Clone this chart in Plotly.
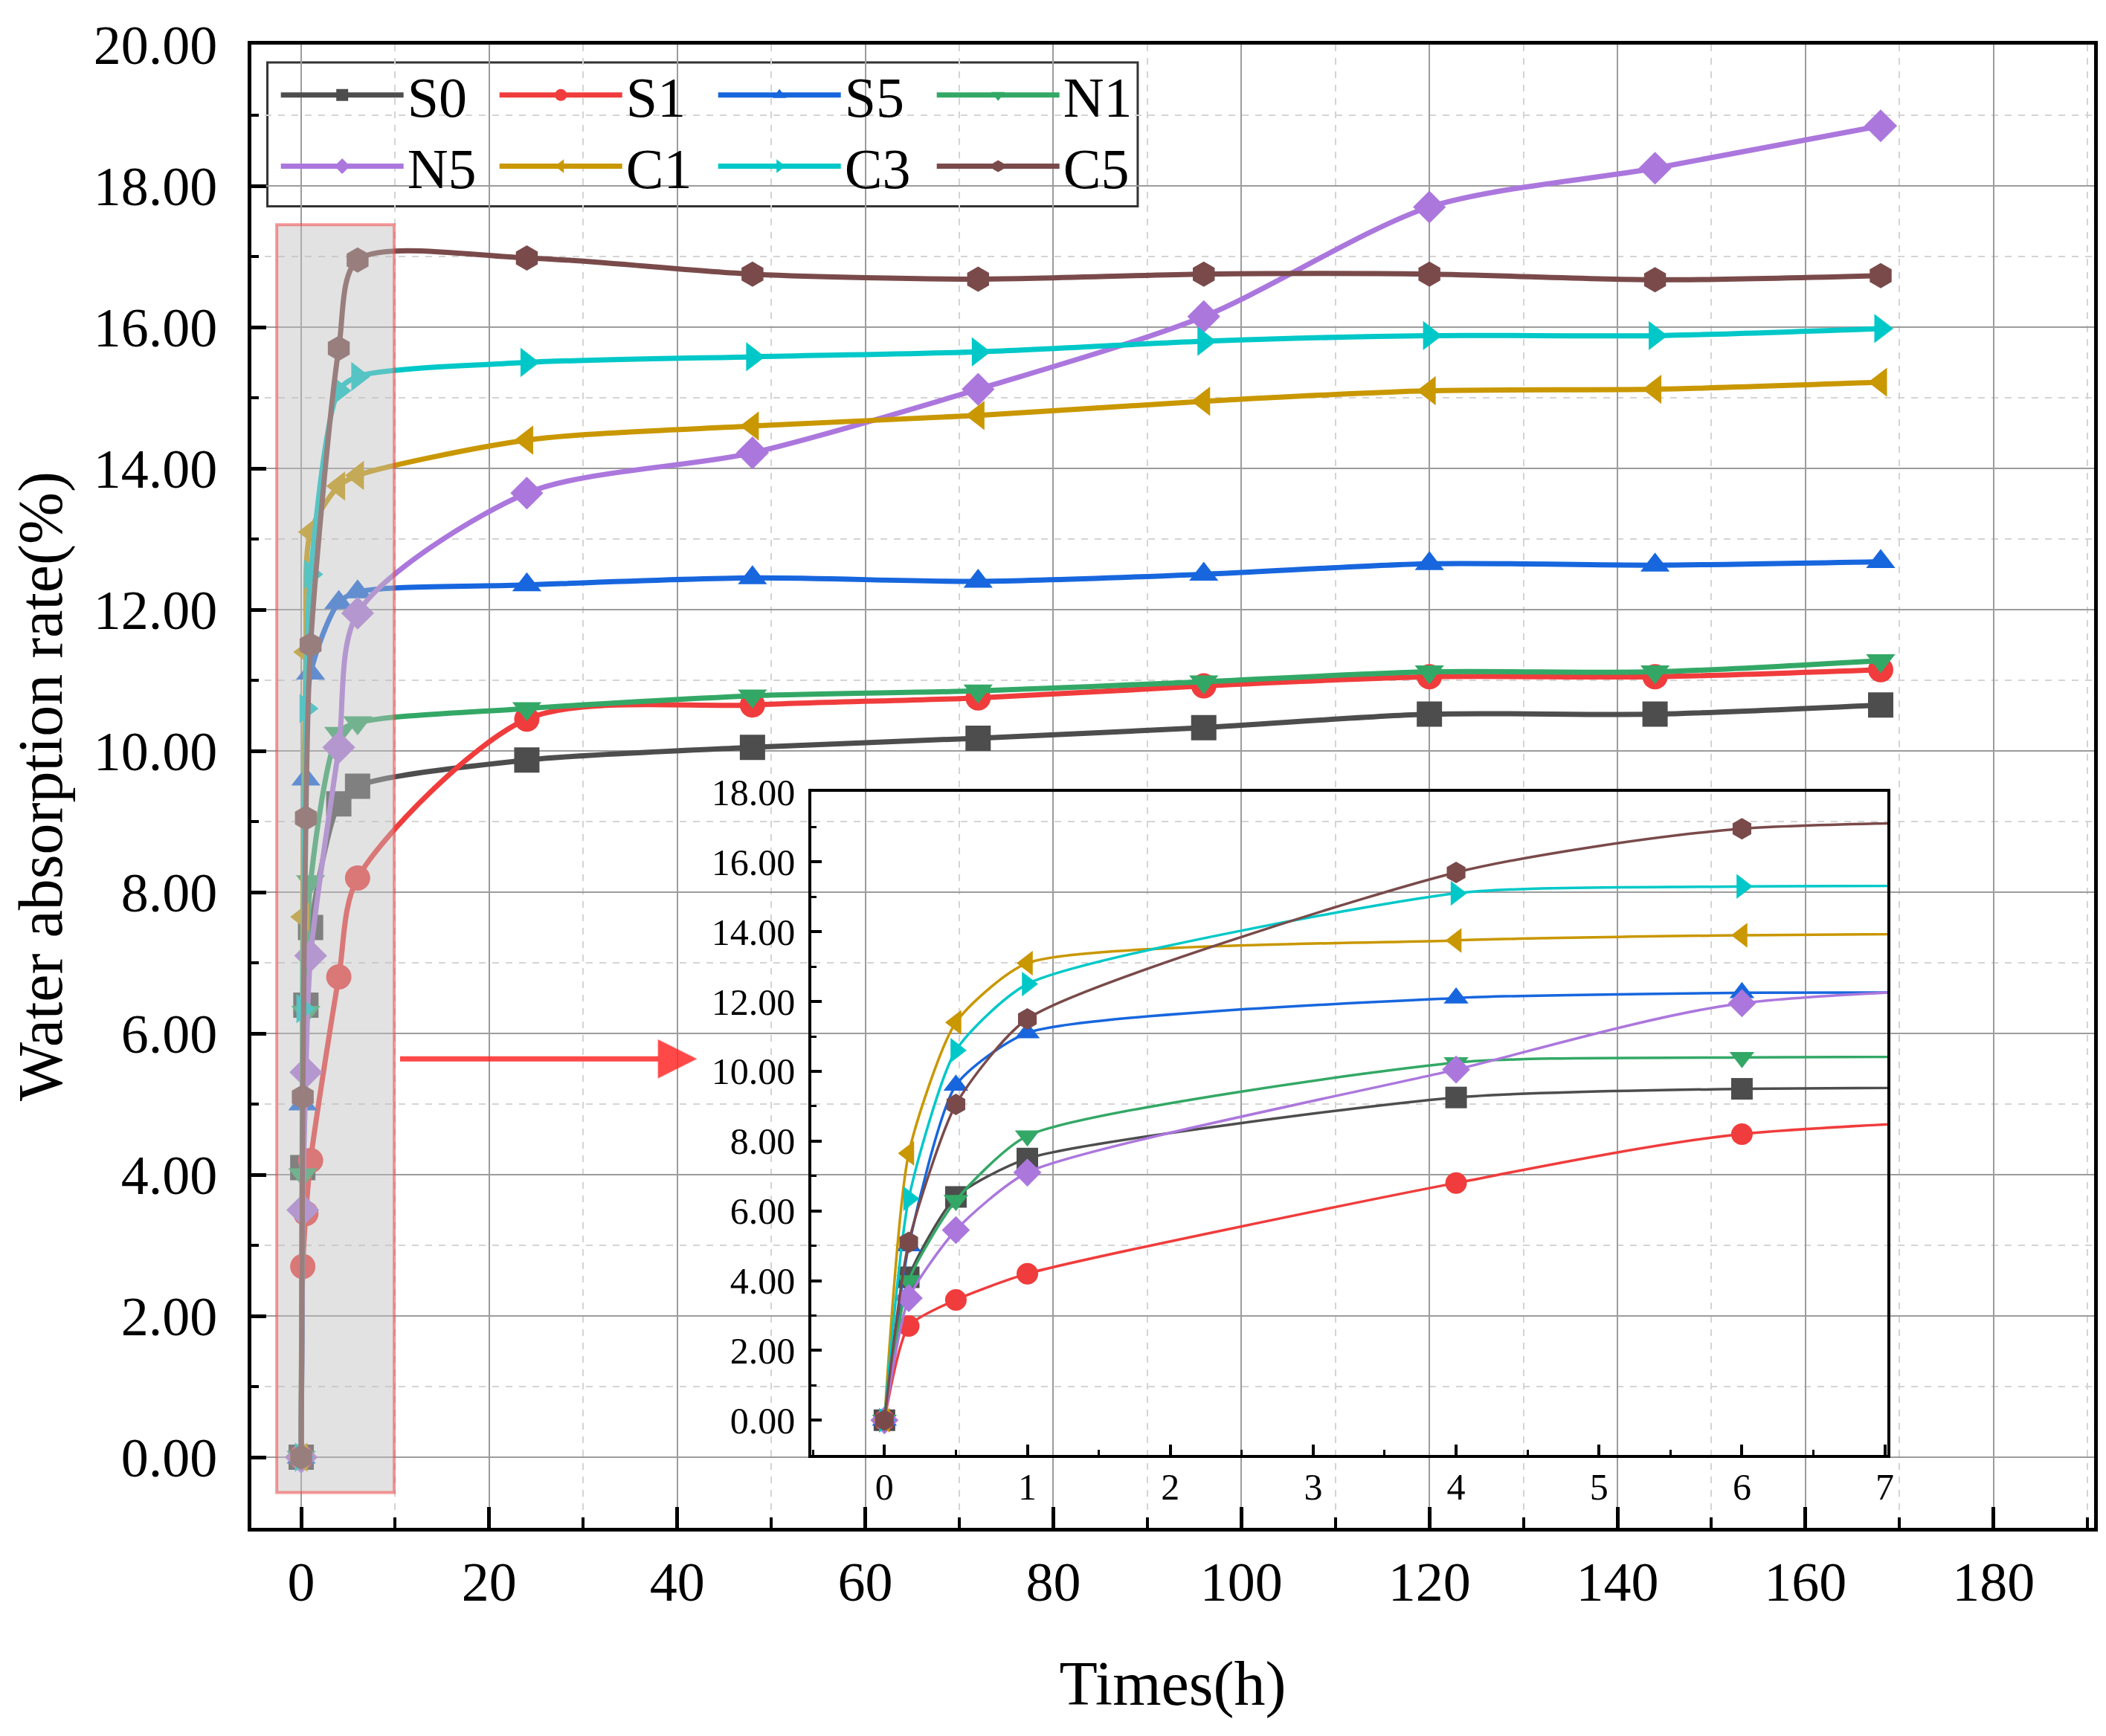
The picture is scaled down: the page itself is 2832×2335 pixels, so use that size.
import plotly.graph_objects as go

# soaking times (h) and water absorption (%) for each mix
hours = [0, 0.17, 0.5, 1, 4, 6, 24, 48, 72, 96, 120, 144, 168]

s0 = [0, 4.1, 6.4, 7.5, 9.25, 9.5, 9.87, 10.05, 10.18, 10.33, 10.52, 10.52, 10.65]
s1 = [0, 2.7, 3.45, 4.2, 6.8, 8.2, 10.45, 10.65, 10.75, 10.92, 11.05, 11.05, 11.15]
s5 = [0, 5.0, 9.6, 11.1, 12.1, 12.25, 12.35, 12.45, 12.4, 12.5, 12.65, 12.63, 12.68]
n1 = [0, 4.0, 6.3, 8.15, 10.25, 10.4, 10.6, 10.78, 10.85, 10.98, 11.12, 11.12, 11.28]
n5 = [0, 3.5, 5.45, 7.1, 10.05, 11.95, 13.65, 14.22, 15.12, 16.15, 17.7, 18.25, 18.85]
c1 = [0, 7.65, 11.4, 13.1, 13.75, 13.9, 14.4, 14.6, 14.75, 14.95, 15.1, 15.12, 15.22]
c3 = [0, 6.35, 10.6, 12.5, 15.1, 15.3, 15.5, 15.58, 15.65, 15.8, 15.88, 15.88, 15.98]
c5 = [0, 5.1, 9.05, 11.5, 15.7, 16.95, 16.98, 16.75, 16.68, 16.75, 16.75, 16.67, 16.73]

names = ['S0', 'S1', 'S5', 'N1', 'N5', 'C1', 'C3', 'C5']
series = [s0, s1, s5, n1, n5, c1, c3, c5]
colors = ['#4d4d4d', '#f03c3c', '#1766de', '#33a866',
          '#ab77dd', '#c99700', '#00c8c8', '#7a4a4a']
symbols = ['square', 'circle', 'triangle-up', 'triangle-down',
           'diamond', 'triangle-left', 'triangle-right', 'hexagon']

FONT = 'Liberation Serif'

fig = go.Figure()

for i, (nm, ys) in enumerate(zip(names, series)):
    fig.add_trace(go.Scatter(
        x=hours, y=ys, name=nm, mode='lines+markers',
        line=dict(color=colors[i], width=7, shape='spline', smoothing=0.8),
        marker=dict(symbol=symbols[i], size=34, color=colors[i]),
        legend='legend' if i < 4 else 'legend2',
        xaxis='x', yaxis='y'))

# inset: first 7 hours
for i, (nm, ys) in enumerate(zip(names, series)):
    fig.add_trace(go.Scatter(
        x=hours, y=ys, name=nm, mode='lines+markers', showlegend=False,
        line=dict(color=colors[i], width=3.5, shape='spline', smoothing=0.6),
        marker=dict(symbol=symbols[i], size=29, color=colors[i]),
        xaxis='x2', yaxis='y2', cliponaxis=True))

tickfont = dict(family=FONT, size=74, color='black')
inset_font = dict(family=FONT, size=50, color='black')
legend_font = dict(family=FONT, size=76, color='black')

fig.update_layout(
    width=2832, height=2335,
    margin=dict(l=330, r=24, t=50, b=288),
    paper_bgcolor='white', plot_bgcolor='rgba(0,0,0,0)',
    font=dict(family=FONT, color='black'),
    xaxis=dict(
        domain=[0, 1], range=[-5.3, 190.7], dtick=20, tick0=0,
        showline=True, mirror=True, linecolor='black', linewidth=5,
        ticks='inside', ticklen=28, tickwidth=5, tickcolor='black',
        showgrid=True, gridcolor='#9c9c9c', gridwidth=2,
        minor=dict(dtick=10, ticks='inside', ticklen=14, tickwidth=4,
                   tickcolor='black', showgrid=True, gridcolor='#d4d4d4',
                   griddash='dash', gridwidth=2),
        zeroline=False, tickfont=tickfont, ticklabelstandoff=4,
        title=dict(text='Times(h)', font=dict(family=FONT, size=84), standoff=68)),
    yaxis=dict(
        domain=[0, 1], range=[-1.0, 20.0], dtick=2, tick0=0, tickformat='.2f',
        showline=True, mirror=True, linecolor='black', linewidth=5,
        ticks='inside', ticklen=20, tickwidth=5, tickcolor='black',
        showgrid=True, gridcolor='#9c9c9c', gridwidth=2,
        minor=dict(dtick=1, ticks='inside', ticklen=10, tickwidth=4,
                   tickcolor='black', showgrid=True, gridcolor='#d4d4d4',
                   griddash='dash', gridwidth=2),
        zeroline=False, tickfont=tickfont, ticklabelstandoff=26,
        title=dict(text='Water absorption rate(%)', font=dict(family=FONT, size=84), standoff=30)),
    xaxis2=dict(
        domain=[0.304, 0.888], anchor='y2', range=[-0.51, 7.02], dtick=1, tick0=0,
        showline=True, mirror=True, linecolor='black', linewidth=4,
        ticks='inside', ticklen=14, tickwidth=4, tickcolor='black',
        minor=dict(dtick=0.5, ticks='inside', ticklen=7, tickwidth=3, tickcolor='black'),
        showgrid=False, zeroline=False, tickfont=inset_font, ticklabelstandoff=-4),
    yaxis2=dict(
        domain=[0.049, 0.496], anchor='x2', range=[-1.0, 18.0], dtick=2, tick0=0,
        tickformat='.2f',
        showline=True, mirror=True, linecolor='black', linewidth=4,
        ticks='inside', ticklen=14, tickwidth=4, tickcolor='black',
        minor=dict(dtick=1, ticks='inside', ticklen=7, tickwidth=3, tickcolor='black'),
        showgrid=False, zeroline=False, tickfont=inset_font, ticklabelstandoff=8),
    legend=dict(orientation='h', x=0.014, y=0.966, xanchor='left', yanchor='middle',
                font=legend_font, bgcolor='rgba(0,0,0,0)', borderwidth=0,
                entrywidth=114, entrywidthmode='pixels', itemwidth=165),
    legend2=dict(orientation='h', x=0.014, y=0.918, xanchor='left', yanchor='middle',
                 font=legend_font, bgcolor='rgba(0,0,0,0)', borderwidth=0,
                 entrywidth=114, entrywidthmode='pixels', itemwidth=165),
)

# legend frame
fig.add_shape(type='rect', xref='paper', yref='paper',
              x0=0.0087, x1=0.481, y0=0.891, y1=0.988,
              line=dict(color='#333333', width=3), fillcolor='white', layer='below')

# highlighted early-time region
fig.add_shape(type='rect', xref='x', yref='y', x0=-2.6, x1=9.9, y0=-0.5, y1=17.45,
              line=dict(color='rgba(240,70,70,0.55)', width=4),
              fillcolor='rgba(190,190,190,0.45)', layer='above')

# arrow pointing to inset
fig.add_annotation(x=42.1, y=5.64, ax=10.4, ay=5.64, xref='x', yref='y',
                   axref='x', ayref='y', text='', showarrow=True,
                   arrowhead=2, arrowsize=1.5, arrowwidth=7,
                   arrowcolor='rgba(255,40,40,0.85)')

fig.write_html('out.html')
